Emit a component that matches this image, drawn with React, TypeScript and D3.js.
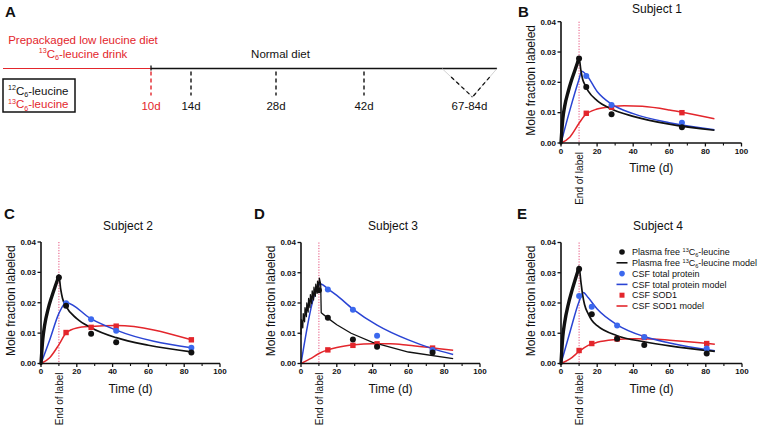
import React from 'react';
import * as d3 from 'd3';

type Pt = [number, number];

const FONT = "'Liberation Sans', Arial, Helvetica, sans-serif";
const BLACK = '#111111';
const BLUE = '#2a44d4';
const BLUE_PT = '#3b68ee';
const RED = '#e3262c';
const DOT_RED = '#e6507c';

// ---------- Panel A: timeline ----------
const timelineDays = [10, 14, 28, 42];
const timelineLabels = ['10d', '14d', '28d', '42d'];
const finalWindow = [67, 84];
const finalLabel = '67-84d';

// ---------- Subject 1 (B) ----------
const s1PlasmaPts: Pt[] = [[10, 0.0279], [14, 0.0185], [28, 0.0095], [67, 0.0052]];
const s1ProteinPts: Pt[] = [[14, 0.0221], [28, 0.0125], [67, 0.0067]];
const s1SodPts: Pt[] = [[14, 0.0098], [28, 0.0118], [67, 0.01]];
const s1PlasmaModel: Pt[] = [[0, 0], [1, 0.008], [2, 0.012], [4, 0.017], [6, 0.021], [8, 0.0245], [10, 0.028], [11, 0.024], [12, 0.021], [13, 0.0195], [15, 0.0172], [20, 0.014], [28, 0.0112], [40, 0.0088], [60, 0.0062], [85, 0.0042]];
const s1ProteinModel: Pt[] = [[0, 0], [5, 0.011], [10, 0.021], [11.5, 0.0237], [14, 0.0225], [20, 0.017], [28, 0.0128], [40, 0.0097], [60, 0.0067], [85, 0.0044]];
const s1SodModel: Pt[] = [[0, 0], [5, 0.002], [10, 0.0065], [13, 0.009], [20, 0.0112], [28, 0.012], [35, 0.0123], [45, 0.0121], [60, 0.0109], [70, 0.0098], [85, 0.008]];

// ---------- Subject 2 (C) ----------
const s2PlasmaPts: Pt[] = [[10, 0.0283], [14, 0.019], [28, 0.0098], [42, 0.007], [84, 0.0036]];
const s2ProteinPts: Pt[] = [[14, 0.0198], [28, 0.0146], [42, 0.0108], [84, 0.0052]];
const s2SodPts: Pt[] = [[14, 0.0102], [28, 0.0119], [42, 0.0123], [84, 0.0078]];
const s2PlasmaModel: Pt[] = [[0, 0], [1, 0.008], [2, 0.0125], [4, 0.018], [6, 0.022], [8, 0.0255], [10, 0.0288], [11, 0.0245], [12, 0.0215], [14, 0.0188], [20, 0.0148], [28, 0.0118], [42, 0.0085], [60, 0.006], [84, 0.0038]];
const s2ProteinModel: Pt[] = [[0, 0], [5, 0.008], [10, 0.0165], [14, 0.02], [28, 0.0147], [42, 0.011], [84, 0.0052]];
const s2SodModel: Pt[] = [[0, 0], [5, 0.002], [10, 0.0062], [14, 0.01], [20, 0.0117], [28, 0.0122], [42, 0.0125], [84, 0.0078]];

// ---------- Subject 3 (D) ----------
const s3PlasmaPts: Pt[] = [[10, 0.0242], [15, 0.0151], [29, 0.0079], [42.5, 0.0055], [73.5, 0.0036]];
const s3ProteinPts: Pt[] = [[15, 0.0245], [29, 0.0178], [42.5, 0.0092], [73.5, 0.0045]];
const s3SodPts: Pt[] = [[15, 0.0045], [29, 0.006], [42.5, 0.0065], [73.5, 0.0051]];
const s3PlasmaModel: Pt[] = [[0, 0.0095], [0.25, 0.0145], [1, 0.0118], [1.25, 0.0165], [2, 0.0138], [2.25, 0.0185], [3, 0.0155], [3.25, 0.02], [4, 0.017], [4.25, 0.0215], [5, 0.0185], [5.25, 0.0228], [6, 0.0198], [6.25, 0.024], [7, 0.021], [7.25, 0.0252], [8, 0.0222], [8.25, 0.0262], [9, 0.0232], [9.25, 0.0272], [10, 0.025], [10.25, 0.0282], [11, 0.0262], [11.3, 0.0168], [15, 0.015], [20, 0.0128], [28, 0.01], [40, 0.007], [60, 0.0038], [85, 0.0016]];
const s3ProteinModel: Pt[] = [[0, 0], [11, 0.0263], [15, 0.0247], [20, 0.0225], [29, 0.018], [42.5, 0.0127], [60, 0.0078], [73, 0.005], [85, 0.003]];
const s3SodModel: Pt[] = [[0, 0], [5, 0.0015], [10, 0.0033], [15, 0.0045], [20, 0.0053], [30, 0.0062], [40, 0.0065], [50, 0.0065], [60, 0.006], [74, 0.0051], [85, 0.0044]];

// ---------- Subject 4 (E) ----------
const s4PlasmaPts: Pt[] = [[10, 0.0312], [17, 0.0163], [31, 0.0082], [46, 0.0061], [80.5, 0.0033]];
const s4ProteinPts: Pt[] = [[10, 0.0223], [17, 0.0188], [31, 0.0126], [46, 0.0088], [80.5, 0.005]];
const s4SodPts: Pt[] = [[10, 0.0043], [17, 0.0066], [31, 0.0081], [46, 0.0086], [80.5, 0.0066]];
const s4PlasmaModel: Pt[] = [[0, 0], [1, 0.009], [2, 0.0135], [4, 0.0195], [6, 0.024], [8, 0.028], [10, 0.0318], [11, 0.027], [12, 0.0225], [13, 0.0195], [15, 0.0165], [17, 0.0143], [20, 0.0125], [31, 0.0092], [46, 0.0072], [60, 0.0058], [85, 0.004]];
const s4ProteinModel: Pt[] = [[0, 0], [5, 0.0105], [10, 0.0205], [12.3, 0.0235], [15, 0.0218], [20, 0.018], [31, 0.0128], [46, 0.0089], [60, 0.0068], [85, 0.0042]];
const s4SodModel: Pt[] = [[0, 0], [5, 0.0015], [10, 0.004], [15, 0.006], [20, 0.007], [30, 0.0079], [40, 0.0082], [50, 0.0081], [60, 0.0077], [80, 0.0067], [85, 0.0064]];

const xMajor = [0, 20, 40, 60, 80, 100];
const xMinor = [10, 30, 50, 70, 90];
const yMajor = [0, 0.01, 0.02, 0.03, 0.04];
const labelEndDay = 10;

const legendLabels = ['Plasma free ', 'Plasma free ', 'CSF total protein', 'CSF total protein model', 'CSF SOD1', 'CSF SOD1 model'];

interface Layout { x0: number; x1: number; yTop: number; y0: number; titleX: number; titleY: number; letter: string; letterX: number; letterY: number; }

interface PanelProps {
  layout: Layout; title: string;
  plasmaPts: Pt[]; proteinPts: Pt[]; sodPts: Pt[];
  plasmaModel: Pt[]; proteinModel: Pt[]; sodModel: Pt[];
  sawtooth?: boolean; legend?: boolean;
}

function Leucine13({ size, color }: { size: number; color: string }) {
  return null as any;
}

function Panel(p: PanelProps) {
  const L = p.layout;
  const x = d3.scaleLinear().domain([0, 100]).range([L.x0, L.x1]);
  const y = d3.scaleLinear().domain([0, 0.04]).range([L.y0, L.yTop]);
  const smooth = d3.line<Pt>().x(d => x(d[0])).y(d => y(d[1])).curve(d3.curveMonotoneX);
  const straight = d3.line<Pt>().x(d => x(d[0])).y(d => y(d[1]));
  const plasmaLine = p.sawtooth ? straight : smooth;
  const rise = p.plasmaModel.filter(d => d[0] <= labelEndDay);
  const midY = (L.y0 + L.yTop) / 2;
  return (
    <g fontFamily={FONT}>
      <text x={L.letterX} y={L.letterY} fontSize={15} fontWeight={900} fill={BLACK}>{L.letter}</text>
      <text x={L.titleX} y={L.titleY} fontSize={12} textAnchor="middle" fill={BLACK}>{p.title}</text>
      {/* end of label marker */}
      <line x1={x(labelEndDay)} x2={x(labelEndDay)} y1={L.yTop} y2={L.y0} stroke={DOT_RED} strokeWidth={1} strokeDasharray="1.2,1.5" />
      {/* models */}
      <path d={p.sodModel.length ? smooth(p.sodModel)! : ''} fill="none" stroke={RED} strokeWidth={1.5} />
      <path d={smooth(p.proteinModel)!} fill="none" stroke={BLUE} strokeWidth={1.5} />
      <path d={plasmaLine(p.plasmaModel)!} fill="none" stroke={BLACK} strokeWidth={p.sawtooth ? 1.3 : 1.7} strokeLinejoin="round" />
      {!p.sawtooth && <path d={smooth(rise)!} fill="none" stroke={BLACK} strokeWidth={3.4} strokeLinecap="round" />}
      {/* points */}
      {p.sodPts.map((d, i) => <rect key={'s' + i} x={x(d[0]) - 2.7} y={y(d[1]) - 2.7} width={5.4} height={5.4} fill={RED} />)}
      {p.proteinPts.map((d, i) => <circle key={'p' + i} cx={x(d[0])} cy={y(d[1])} r={3} fill={BLUE_PT} />)}
      {p.plasmaPts.map((d, i) => <circle key={'b' + i} cx={x(d[0])} cy={y(d[1])} r={3} fill={BLACK} />)}
      {/* axes */}
      <line x1={L.x0} x2={L.x1} y1={L.y0} y2={L.y0} stroke={BLACK} strokeWidth={1.6} />
      <line x1={L.x0} x2={L.x0} y1={L.yTop} y2={L.y0} stroke={BLACK} strokeWidth={1.6} />
      {xMajor.map(t => (
        <g key={'xm' + t}>
          <line x1={x(t)} x2={x(t)} y1={L.y0} y2={L.y0 + 3.5} stroke={BLACK} strokeWidth={1.3} />
          <text x={x(t)} y={L.y0 + 10.5} fontSize={8} fontWeight="bold" textAnchor="middle" fill={BLACK}>{t}</text>
        </g>
      ))}
      {xMinor.map(t => <line key={'xn' + t} x1={x(t)} x2={x(t)} y1={L.y0} y2={L.y0 + 2.5} stroke={BLACK} strokeWidth={1.1} />)}
      {yMajor.map(t => (
        <g key={'ym' + t}>
          <line x1={L.x0 - 3.5} x2={L.x0} y1={y(t)} y2={y(t)} stroke={BLACK} strokeWidth={1.3} />
          <text x={L.x0 - 5} y={y(t)} dy="0.35em" fontSize={8} fontWeight="bold" textAnchor="end" fill={BLACK}>{d3.format('.2f')(t)}</text>
        </g>
      ))}
      <text x={(L.x0 + L.x1) / 2} y={L.y0 + 29} fontSize={12} textAnchor="middle" fill={BLACK}>Time (d)</text>
      <text transform={`translate(${L.x0 - 26},${midY - 2}) rotate(-90)`} fontSize={12} textAnchor="middle" fill={BLACK}>Mole fraction labeled</text>
      <text transform={`translate(${x(labelEndDay) + 4},${L.y0 + 9}) rotate(-90)`} fontSize={10} textAnchor="end" fill={BLACK}>End of label</text>
      {p.legend && <Legend x={L.x0 + 61} y={L.yTop + 9.5} />}
    </g>
  );
}

function C13({ fs, color }: { fs: number; color: string }) {
  const s = fs * 0.62;
  return (
    <>
      <tspan fontSize={s} dy={-fs * 0.35} fill={color}>13</tspan>
      <tspan fontSize={fs} dy={fs * 0.35} fill={color}>C</tspan>
      <tspan fontSize={s} dy={fs * 0.22} fill={color}>6</tspan>
      <tspan fontSize={fs} dy={-fs * 0.22} fill={color}>-leucine</tspan>
    </>
  );
}

function Legend({ x, y }: { x: number; y: number }) {
  const fs = 9;
  const step = 10.8;
  const kinds = ['dot', 'line', 'dot', 'line', 'sq', 'line'];
  const colors = [BLACK, BLACK, BLUE_PT, BLUE, RED, RED];
  return (
    <g fontFamily={FONT}>
      {legendLabels.map((lab, i) => {
        const cy = y + i * step;
        const c = colors[i];
        return (
          <g key={i}>
            {kinds[i] === 'dot' && <circle cx={x} cy={cy} r={2.8} fill={c} />}
            {kinds[i] === 'sq' && <rect x={x - 2.5} y={cy - 2.5} width={5} height={5} fill={c} />}
            {kinds[i] === 'line' && <line x1={x - 5.5} x2={x + 5.5} y1={cy} y2={cy} stroke={c} strokeWidth={1.6} />}
            <text x={x + 10} y={cy} dy="0.35em" fontSize={fs} fill={BLACK}>
              {lab}
              {i < 2 && <C13 fs={fs} color={BLACK} />}
              {i === 1 && <tspan> model</tspan>}
            </text>
          </g>
        );
      })}
    </g>
  );
}

function PanelA() {
  const lineY = 68.5;
  const t = d3.scaleLinear().domain([0, 10, 14, 28, 42, 67, 84]).range([3, 151, 191, 276, 364, 442, 497]);
  const fs = 11.5;
  const tipX = (t(finalWindow[0]) + t(finalWindow[1])) / 2 + 3;
  const tipY = 97;
  const lerp = (a: number, b: number, f: number) => a + (b - a) * f;
  return (
    <g fontFamily={FONT}>
      <text x={5} y={17} fontSize={15} fontWeight={900} fill={BLACK}>A</text>
      <text x={t(5) + 6} y={44} fontSize={fs} textAnchor="middle" fill={RED}>Prepackaged low leucine diet</text>
      <text x={t(5) + 6} y={57.5} fontSize={fs} textAnchor="middle" fill={RED}><C13 fs={fs} color={RED} /><tspan> drink</tspan></text>
      <text x={(t(14) + t(42)) / 2 + 3} y={57.5} fontSize={fs} textAnchor="middle" fill={BLACK}>Normal diet</text>
      <line x1={t(0)} x2={t(10)} y1={lineY} y2={lineY} stroke={RED} strokeWidth={1.2} />
      <line x1={t(10)} x2={t(84)} y1={lineY} y2={lineY} stroke={BLACK} strokeWidth={1.5} />
      <line x1={t(10)} x2={t(10)} y1={lineY - 3} y2={lineY + 2} stroke={BLACK} strokeWidth={1.3} />
      {timelineDays.map((d, i) => (
        <g key={d}>
          <line x1={t(d)} x2={t(d)} y1={lineY + 3} y2={lineY + 27} stroke={i === 0 ? RED : BLACK} strokeWidth={1.4} strokeDasharray="4,3" />
          <text x={t(d)} y={110} fontSize={fs} textAnchor="middle" fill={i === 0 ? RED : BLACK}>{timelineLabels[i]}</text>
        </g>
      ))}
      {finalWindow.map(d => (
        <g key={d}>
          <line x1={t(d)} x2={tipX} y1={lineY} y2={tipY} stroke="#c8c8c8" strokeWidth={0.8} />
          <line x1={lerp(t(d), tipX, 0.3)} x2={tipX} y1={lerp(lineY, tipY, 0.3)} y2={tipY} stroke={BLACK} strokeWidth={1.3} strokeDasharray="4,3" />
        </g>
      ))}
      <text x={tipX - 3} y={110} fontSize={fs} textAnchor="middle" fill={BLACK}>{finalLabel}</text>
      <rect x={3} y={79} width={72} height={33} fill="none" stroke={BLACK} strokeWidth={1.5} />
      <text x={8} y={94.5} fontSize={fs} fill={BLACK}>
        <tspan fontSize={fs * 0.62} dy={-fs * 0.35}>12</tspan>
        <tspan dy={fs * 0.35}>C</tspan>
        <tspan fontSize={fs * 0.62} dy={fs * 0.22}>6</tspan>
        <tspan dy={-fs * 0.22}>-leucine</tspan>
      </text>
      <text x={8} y={108} fontSize={fs} fill={RED}><C13 fs={fs} color={RED} /></text>
    </g>
  );
}

const layoutB: Layout = { x0: 561, x1: 741.5, yTop: 21.7, y0: 143, titleX: 657, titleY: 13, letter: 'B', letterX: 518, letterY: 17 };
const layoutC: Layout = { x0: 41, x1: 220, yTop: 242, y0: 363.5, titleX: 128, titleY: 230, letter: 'C', letterX: 4, letterY: 219 };
const layoutD: Layout = { x0: 301, x1: 480, yTop: 242.5, y0: 363.5, titleX: 393, titleY: 230, letter: 'D', letterX: 254, letterY: 219 };
const layoutE: Layout = { x0: 561, x1: 742, yTop: 242.5, y0: 363.5, titleX: 658, titleY: 230, letter: 'E', letterX: 517, letterY: 219 };

export default function App() {
  return (
    <svg width={764} height={430} viewBox="0 0 764 430" style={{ position: 'absolute', left: 0, top: 0, background: '#fff' }}>
      <rect width={764} height={430} fill="#fff" />
      <PanelA />
      <Panel layout={layoutB} title="Subject 1" plasmaPts={s1PlasmaPts} proteinPts={s1ProteinPts} sodPts={s1SodPts} plasmaModel={s1PlasmaModel} proteinModel={s1ProteinModel} sodModel={s1SodModel} />
      <Panel layout={layoutC} title="Subject 2" plasmaPts={s2PlasmaPts} proteinPts={s2ProteinPts} sodPts={s2SodPts} plasmaModel={s2PlasmaModel} proteinModel={s2ProteinModel} sodModel={s2SodModel} />
      <Panel layout={layoutD} title="Subject 3" plasmaPts={s3PlasmaPts} proteinPts={s3ProteinPts} sodPts={s3SodPts} plasmaModel={s3PlasmaModel} proteinModel={s3ProteinModel} sodModel={s3SodModel} sawtooth />
      <Panel layout={layoutE} title="Subject 4" plasmaPts={s4PlasmaPts} proteinPts={s4ProteinPts} sodPts={s4SodPts} plasmaModel={s4PlasmaModel} proteinModel={s4ProteinModel} sodModel={s4SodModel} legend />
    </svg>
  );
}
